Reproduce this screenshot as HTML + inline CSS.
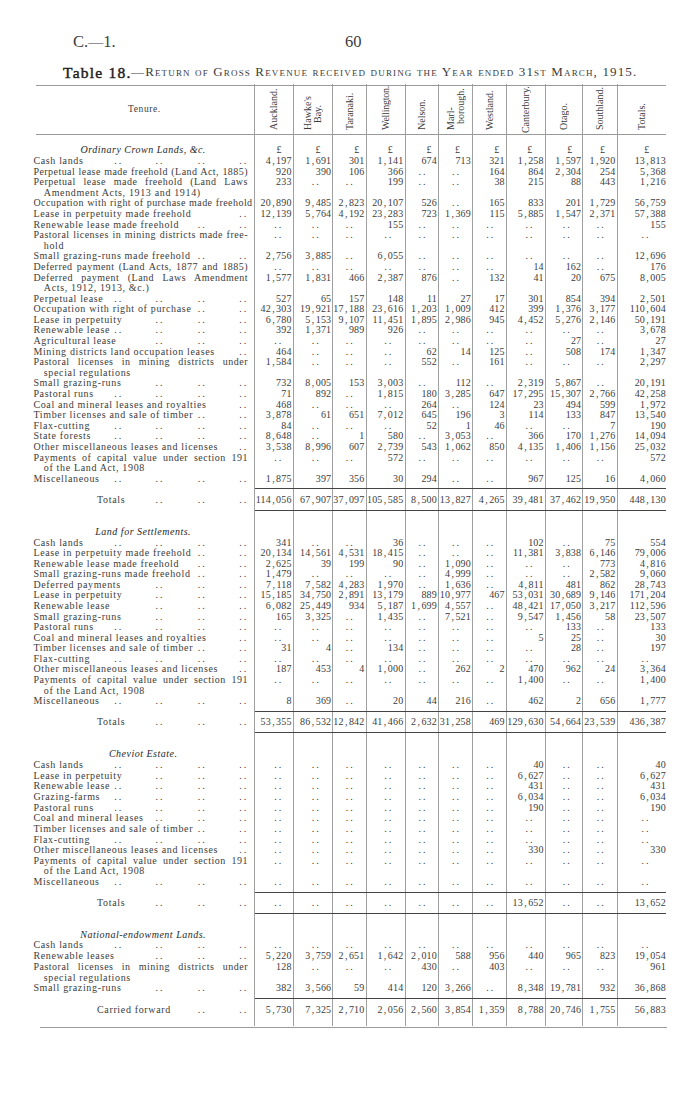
<!DOCTYPE html>
<html><head><meta charset="utf-8"><style>
html,body{margin:0;padding:0;background:#fff;}
body{width:700px;height:1119px;position:relative;overflow:hidden;font-family:"Liberation Serif",serif;color:#3c3c3c;}
div{position:absolute;white-space:nowrap;}
.t,.n,.dd{font-size:10px;line-height:11px;letter-spacing:0.65px;}
.n{text-align:right;letter-spacing:0.2px;margin-right:-0.2px;}
.n i{font-style:normal;padding:0 1.25px;}
.dd{letter-spacing:2px;}
.j{text-align:justify;text-align-last:justify;letter-spacing:0.5px;}
.ttl{letter-spacing:0.5px;color:#282828;}
.vl{width:1px;background:#a0a0a0;}
.hl{height:1px;background:#444;}
.hr{height:1px;background:#9a9a9a;}
.rot{font-size:10px;writing-mode:vertical-rl;transform:rotate(180deg);text-align:left;}
.hd{font-size:17px;}
</style></head><body>
<div class="hd" style="left:73px;top:32.2px;font-size:16.5px">C.<span style="font-size:15px">—</span>1.</div>
<div class="hd" style="left:345px;top:32px;font-size:16.5px">60</div>
<div style="left:63px;top:63.8px;font-size:15.5px;font-weight:normal;-webkit-text-stroke:0.45px #222;letter-spacing:1.25px;line-height:18px;color:#222">Table 18.</div>
<div style="left:131px;top:64.2px;font-size:13px;font-variant:small-caps;letter-spacing:1.15px;line-height:16px">—Return of Gross Revenue received during the Year ended 31st March, 1915.</div>
<div class="vl" style="left:254.2px;top:84px;height:942px"></div><div class="vl" style="left:292.8px;top:84px;height:942px"></div><div class="vl" style="left:332.4px;top:84px;height:942px"></div><div class="vl" style="left:365.6px;top:84px;height:942px"></div><div class="vl" style="left:404.5px;top:84px;height:942px"></div><div class="vl" style="left:438.1px;top:84px;height:942px"></div><div class="vl" style="left:472.1px;top:84px;height:942px"></div><div class="vl" style="left:505.9px;top:84px;height:942px"></div><div class="vl" style="left:544.9px;top:84px;height:942px"></div><div class="vl" style="left:582.4px;top:84px;height:942px"></div><div class="vl" style="left:616.6px;top:84px;height:942px"></div><div class="hr" style="left:36px;top:84.5px;width:630px"></div><div class="hr" style="left:36px;top:133.8px;width:630px"></div><div class="hr" style="left:40px;top:1026.6px;width:627px"></div><div class="rot" style="left:269.0px;top:85.5px;width:10.0px;height:44.0px;line-height:10.0px">Auckland.</div><div class="rot" style="left:303.1px;top:85.5px;width:20.0px;height:44.0px;line-height:10.0px"><span style="display:block">Hawke's</span><span style="display:block;padding-inline-start:6.9px">Bay.</span></div><div class="rot" style="left:344.5px;top:85.5px;width:10.0px;height:44.0px;line-height:10.0px">Taranaki.</div><div class="rot" style="left:380.6px;top:85.5px;width:10.0px;height:44.0px;line-height:10.0px"><span style="letter-spacing:-0.25px">Wellington.</span></div><div class="rot" style="left:416.8px;top:85.5px;width:10.0px;height:44.0px;line-height:10.0px">Nelson.</div><div class="rot" style="left:445.6px;top:85.5px;width:20.0px;height:44.0px;line-height:10.0px"><span style="display:block">Marl-</span><span style="display:block;padding-inline-start:5.7px">borough.</span></div><div class="rot" style="left:484.5px;top:85.5px;width:10.0px;height:44.0px;line-height:10.0px">Westland.</div><div class="rot" style="left:520.9px;top:85.5px;width:10.0px;height:47.1px;line-height:10.0px">Canterbury.</div><div class="rot" style="left:559.1px;top:85.5px;width:10.0px;height:44.0px;line-height:10.0px">Otago.</div><div class="rot" style="left:595.0px;top:85.5px;width:10.0px;height:44.0px;line-height:10.0px">Southland.</div><div class="rot" style="left:636.5px;top:85.5px;width:10.0px;height:44.0px;line-height:10.0px">Totals.</div><div class="t" style="left:128px;top:103.8px;font-size:9.5px;letter-spacing:0.6px">Tenure.</div>
<div class="t ttl" style="left:33.4px;top:144.4px;width:219.6px;text-align:center"><i>Ordinary Crown Lands, &amp;c.</i></div><div class="t" style="left:264.4px;top:144.4px;width:30.0px;text-align:center">£</div><div class="t" style="left:303.3px;top:144.4px;width:30.0px;text-align:center">£</div><div class="t" style="left:342.1px;top:144.4px;width:30.0px;text-align:center">£</div><div class="t" style="left:375.7px;top:144.4px;width:30.0px;text-align:center">£</div><div class="t" style="left:414.3px;top:144.4px;width:30.0px;text-align:center">£</div><div class="t" style="left:442.9px;top:144.4px;width:30.0px;text-align:center">£</div><div class="t" style="left:482.1px;top:144.4px;width:30.0px;text-align:center">£</div><div class="t" style="left:515.0px;top:144.4px;width:30.0px;text-align:center">£</div><div class="t" style="left:555.0px;top:144.4px;width:30.0px;text-align:center">£</div><div class="t" style="left:587.9px;top:144.4px;width:30.0px;text-align:center">£</div><div class="t" style="left:632.1px;top:144.4px;width:30.0px;text-align:center">£</div><div class="t" style="left:33.4px;top:155.0px">Cash lands</div><div class="dd" style="left:114.2px;top:155.0px">..</div><div class="dd" style="left:155.4px;top:155.0px">..</div><div class="dd" style="left:197.7px;top:155.0px">..</div><div class="dd" style="left:239.3px;top:155.0px">..</div><div class="n" style="left:244.7px;top:155.0px;width:47.0px">4<i>,</i>197</div><div class="n" style="left:283.3px;top:155.0px;width:48.0px">1<i>,</i>691</div><div class="n" style="left:322.9px;top:155.0px;width:41.6px">301</div><div class="n" style="left:356.1px;top:155.0px;width:47.3px">1<i>,</i>141</div><div class="n" style="left:395.0px;top:155.0px;width:42.0px">674</div><div class="n" style="left:428.6px;top:155.0px;width:42.4px">713</div><div class="n" style="left:462.6px;top:155.0px;width:42.2px">321</div><div class="n" style="left:496.4px;top:155.0px;width:47.4px">1<i>,</i>258</div><div class="n" style="left:535.4px;top:155.0px;width:45.9px">1<i>,</i>597</div><div class="n" style="left:572.9px;top:155.0px;width:42.6px">1<i>,</i>920</div><div class="n" style="left:607.1px;top:155.0px;width:58.8px">13<i>,</i>813</div><div class="t j" style="left:33.4px;top:165.6px;width:214.6px;letter-spacing:0.45px">Perpetual lease made freehold (Land Act, 1885)</div><div class="n" style="left:244.7px;top:165.6px;width:47.0px">920</div><div class="n" style="left:283.3px;top:165.6px;width:48.0px">390</div><div class="n" style="left:322.9px;top:165.6px;width:41.6px">106</div><div class="n" style="left:356.1px;top:165.6px;width:47.3px">366</div><div class="dd" style="left:418.4px;top:165.6px">..</div><div class="dd" style="left:452.1px;top:165.6px">..</div><div class="n" style="left:462.6px;top:165.6px;width:42.2px">164</div><div class="n" style="left:496.4px;top:165.6px;width:47.4px">864</div><div class="n" style="left:535.4px;top:165.6px;width:45.9px">2<i>,</i>304</div><div class="n" style="left:572.9px;top:165.6px;width:42.6px">254</div><div class="n" style="left:607.1px;top:165.6px;width:58.8px">5<i>,</i>368</div><div class="t j" style="left:33.4px;top:176.2px;width:214.6px">Perpetual lease made freehold (Land Laws</div><div class="n" style="left:244.7px;top:176.2px;width:47.0px">233</div><div class="dd" style="left:311.8px;top:176.2px">..</div><div class="dd" style="left:345.7px;top:176.2px">..</div><div class="n" style="left:356.1px;top:176.2px;width:47.3px">199</div><div class="dd" style="left:418.4px;top:176.2px">..</div><div class="dd" style="left:452.1px;top:176.2px">..</div><div class="n" style="left:462.6px;top:176.2px;width:42.2px">38</div><div class="n" style="left:496.4px;top:176.2px;width:47.4px">215</div><div class="n" style="left:535.4px;top:176.2px;width:45.9px">88</div><div class="n" style="left:572.9px;top:176.2px;width:42.6px">443</div><div class="n" style="left:607.1px;top:176.2px;width:58.8px">1<i>,</i>216</div><div class="t" style="left:43.8px;top:186.8px">Amendment Acts, 1913 and 1914)</div><div class="t j" style="left:33.4px;top:197.4px;width:219.2px;letter-spacing:0.45px">Occupation with right of purchase made freehold</div><div class="n" style="left:244.7px;top:197.4px;width:47.0px">20<i>,</i>890</div><div class="n" style="left:283.3px;top:197.4px;width:48.0px">9<i>,</i>485</div><div class="n" style="left:322.9px;top:197.4px;width:41.6px">2<i>,</i>823</div><div class="n" style="left:356.1px;top:197.4px;width:47.3px">20<i>,</i>107</div><div class="n" style="left:395.0px;top:197.4px;width:42.0px">526</div><div class="dd" style="left:452.1px;top:197.4px">..</div><div class="n" style="left:462.6px;top:197.4px;width:42.2px">165</div><div class="n" style="left:496.4px;top:197.4px;width:47.4px">833</div><div class="n" style="left:535.4px;top:197.4px;width:45.9px">201</div><div class="n" style="left:572.9px;top:197.4px;width:42.6px">1<i>,</i>729</div><div class="n" style="left:607.1px;top:197.4px;width:58.8px">56<i>,</i>759</div><div class="t" style="left:33.4px;top:207.9px">Lease in perpetuity made freehold</div><div class="dd" style="left:239.3px;top:207.9px">..</div><div class="n" style="left:244.7px;top:207.9px;width:47.0px">12<i>,</i>139</div><div class="n" style="left:283.3px;top:207.9px;width:48.0px">5<i>,</i>764</div><div class="n" style="left:322.9px;top:207.9px;width:41.6px">4<i>,</i>192</div><div class="n" style="left:356.1px;top:207.9px;width:47.3px">23<i>,</i>283</div><div class="n" style="left:395.0px;top:207.9px;width:42.0px">723</div><div class="n" style="left:428.6px;top:207.9px;width:42.4px">1<i>,</i>369</div><div class="n" style="left:462.6px;top:207.9px;width:42.2px">115</div><div class="n" style="left:496.4px;top:207.9px;width:47.4px">5<i>,</i>885</div><div class="n" style="left:535.4px;top:207.9px;width:45.9px">1<i>,</i>547</div><div class="n" style="left:572.9px;top:207.9px;width:42.6px">2<i>,</i>371</div><div class="n" style="left:607.1px;top:207.9px;width:58.8px">57<i>,</i>388</div><div class="t" style="left:33.4px;top:218.5px">Renewable lease made freehold</div><div class="dd" style="left:197.7px;top:218.5px">..</div><div class="dd" style="left:239.3px;top:218.5px">..</div><div class="dd" style="left:274.3px;top:218.5px">..</div><div class="dd" style="left:311.8px;top:218.5px">..</div><div class="dd" style="left:345.7px;top:218.5px">..</div><div class="n" style="left:356.1px;top:218.5px;width:47.3px">155</div><div class="dd" style="left:418.4px;top:218.5px">..</div><div class="dd" style="left:452.1px;top:218.5px">..</div><div class="dd" style="left:486.2px;top:218.5px">..</div><div class="dd" style="left:525.6px;top:218.5px">..</div><div class="dd" style="left:562.8px;top:218.5px">..</div><div class="dd" style="left:596.8px;top:218.5px">..</div><div class="n" style="left:607.1px;top:218.5px;width:58.8px">155</div><div class="t j" style="left:33.4px;top:229.1px;width:214.6px">Pastoral licenses in mining districts made free-</div><div class="dd" style="left:274.3px;top:229.1px">..</div><div class="dd" style="left:311.8px;top:229.1px">..</div><div class="dd" style="left:345.7px;top:229.1px">..</div><div class="dd" style="left:384.3px;top:229.1px">..</div><div class="dd" style="left:418.4px;top:229.1px">..</div><div class="dd" style="left:452.1px;top:229.1px">..</div><div class="dd" style="left:486.2px;top:229.1px">..</div><div class="dd" style="left:525.6px;top:229.1px">..</div><div class="dd" style="left:562.8px;top:229.1px">..</div><div class="dd" style="left:596.8px;top:229.1px">..</div><div class="dd" style="left:641.6px;top:229.1px">..</div><div class="t" style="left:43.8px;top:239.7px">hold</div><div class="t" style="left:33.4px;top:250.3px">Small grazing-runs made freehold</div><div class="dd" style="left:197.7px;top:250.3px">..</div><div class="dd" style="left:239.3px;top:250.3px">..</div><div class="n" style="left:244.7px;top:250.3px;width:47.0px">2<i>,</i>756</div><div class="n" style="left:283.3px;top:250.3px;width:48.0px">3<i>,</i>885</div><div class="dd" style="left:345.7px;top:250.3px">..</div><div class="n" style="left:356.1px;top:250.3px;width:47.3px">6<i>,</i>055</div><div class="dd" style="left:418.4px;top:250.3px">..</div><div class="dd" style="left:452.1px;top:250.3px">..</div><div class="dd" style="left:486.2px;top:250.3px">..</div><div class="dd" style="left:525.6px;top:250.3px">..</div><div class="dd" style="left:562.8px;top:250.3px">..</div><div class="dd" style="left:596.8px;top:250.3px">..</div><div class="n" style="left:607.1px;top:250.3px;width:58.8px">12<i>,</i>696</div><div class="t j" style="left:33.4px;top:260.9px;width:214.6px;letter-spacing:0.45px">Deferred payment (Land Acts, 1877 and 1885)</div><div class="dd" style="left:274.3px;top:260.9px">..</div><div class="dd" style="left:311.8px;top:260.9px">..</div><div class="dd" style="left:345.7px;top:260.9px">..</div><div class="dd" style="left:384.3px;top:260.9px">..</div><div class="dd" style="left:418.4px;top:260.9px">..</div><div class="dd" style="left:452.1px;top:260.9px">..</div><div class="dd" style="left:486.2px;top:260.9px">..</div><div class="n" style="left:496.4px;top:260.9px;width:47.4px">14</div><div class="n" style="left:535.4px;top:260.9px;width:45.9px">162</div><div class="dd" style="left:596.8px;top:260.9px">..</div><div class="n" style="left:607.1px;top:260.9px;width:58.8px">176</div><div class="t j" style="left:33.4px;top:271.5px;width:214.6px">Deferred payment (Land Laws Amendment</div><div class="n" style="left:244.7px;top:271.5px;width:47.0px">1<i>,</i>577</div><div class="n" style="left:283.3px;top:271.5px;width:48.0px">1<i>,</i>831</div><div class="n" style="left:322.9px;top:271.5px;width:41.6px">466</div><div class="n" style="left:356.1px;top:271.5px;width:47.3px">2<i>,</i>387</div><div class="n" style="left:395.0px;top:271.5px;width:42.0px">876</div><div class="dd" style="left:452.1px;top:271.5px">..</div><div class="n" style="left:462.6px;top:271.5px;width:42.2px">132</div><div class="n" style="left:496.4px;top:271.5px;width:47.4px">41</div><div class="n" style="left:535.4px;top:271.5px;width:45.9px">20</div><div class="n" style="left:572.9px;top:271.5px;width:42.6px">675</div><div class="n" style="left:607.1px;top:271.5px;width:58.8px">8<i>,</i>005</div><div class="t" style="left:43.8px;top:282.1px">Acts, 1912, 1913, &amp;c.)</div><div class="t" style="left:33.4px;top:292.7px">Perpetual lease</div><div class="dd" style="left:114.2px;top:292.7px">..</div><div class="dd" style="left:155.4px;top:292.7px">..</div><div class="dd" style="left:197.7px;top:292.7px">..</div><div class="dd" style="left:239.3px;top:292.7px">..</div><div class="n" style="left:244.7px;top:292.7px;width:47.0px">527</div><div class="n" style="left:283.3px;top:292.7px;width:48.0px">65</div><div class="n" style="left:322.9px;top:292.7px;width:41.6px">157</div><div class="n" style="left:356.1px;top:292.7px;width:47.3px">148</div><div class="n" style="left:395.0px;top:292.7px;width:42.0px">11</div><div class="n" style="left:428.6px;top:292.7px;width:42.4px">27</div><div class="n" style="left:462.6px;top:292.7px;width:42.2px">17</div><div class="n" style="left:496.4px;top:292.7px;width:47.4px">301</div><div class="n" style="left:535.4px;top:292.7px;width:45.9px">854</div><div class="n" style="left:572.9px;top:292.7px;width:42.6px">394</div><div class="n" style="left:607.1px;top:292.7px;width:58.8px">2<i>,</i>501</div><div class="t" style="left:33.4px;top:303.2px">Occupation with right of purchase</div><div class="dd" style="left:197.7px;top:303.2px">..</div><div class="dd" style="left:239.3px;top:303.2px">..</div><div class="n" style="left:244.7px;top:303.2px;width:47.0px">42<i>,</i>303</div><div class="n" style="left:283.3px;top:303.2px;width:48.0px">19<i>,</i>921</div><div class="n" style="left:322.9px;top:303.2px;width:41.6px">17<i>,</i>188</div><div class="n" style="left:356.1px;top:303.2px;width:47.3px">23<i>,</i>616</div><div class="n" style="left:395.0px;top:303.2px;width:42.0px">1<i>,</i>203</div><div class="n" style="left:428.6px;top:303.2px;width:42.4px">1<i>,</i>009</div><div class="n" style="left:462.6px;top:303.2px;width:42.2px">412</div><div class="n" style="left:496.4px;top:303.2px;width:47.4px">399</div><div class="n" style="left:535.4px;top:303.2px;width:45.9px">1<i>,</i>376</div><div class="n" style="left:572.9px;top:303.2px;width:42.6px">3<i>,</i>177</div><div class="n" style="left:607.1px;top:303.2px;width:58.8px">110<i>,</i>604</div><div class="t" style="left:33.4px;top:313.8px">Lease in perpetuity</div><div class="dd" style="left:155.4px;top:313.8px">..</div><div class="dd" style="left:197.7px;top:313.8px">..</div><div class="dd" style="left:239.3px;top:313.8px">..</div><div class="n" style="left:244.7px;top:313.8px;width:47.0px">6<i>,</i>780</div><div class="n" style="left:283.3px;top:313.8px;width:48.0px">5<i>,</i>153</div><div class="n" style="left:322.9px;top:313.8px;width:41.6px">9<i>,</i>107</div><div class="n" style="left:356.1px;top:313.8px;width:47.3px">11<i>,</i>451</div><div class="n" style="left:395.0px;top:313.8px;width:42.0px">1<i>,</i>895</div><div class="n" style="left:428.6px;top:313.8px;width:42.4px">2<i>,</i>986</div><div class="n" style="left:462.6px;top:313.8px;width:42.2px">945</div><div class="n" style="left:496.4px;top:313.8px;width:47.4px">4<i>,</i>452</div><div class="n" style="left:535.4px;top:313.8px;width:45.9px">5<i>,</i>276</div><div class="n" style="left:572.9px;top:313.8px;width:42.6px">2<i>,</i>146</div><div class="n" style="left:607.1px;top:313.8px;width:58.8px">50<i>,</i>191</div><div class="t" style="left:33.4px;top:324.4px">Renewable lease</div><div class="dd" style="left:114.2px;top:324.4px">..</div><div class="dd" style="left:155.4px;top:324.4px">..</div><div class="dd" style="left:197.7px;top:324.4px">..</div><div class="dd" style="left:239.3px;top:324.4px">..</div><div class="n" style="left:244.7px;top:324.4px;width:47.0px">392</div><div class="n" style="left:283.3px;top:324.4px;width:48.0px">1<i>,</i>371</div><div class="n" style="left:322.9px;top:324.4px;width:41.6px">989</div><div class="n" style="left:356.1px;top:324.4px;width:47.3px">926</div><div class="dd" style="left:418.4px;top:324.4px">..</div><div class="dd" style="left:452.1px;top:324.4px">..</div><div class="dd" style="left:486.2px;top:324.4px">..</div><div class="dd" style="left:525.6px;top:324.4px">..</div><div class="dd" style="left:562.8px;top:324.4px">..</div><div class="dd" style="left:596.8px;top:324.4px">..</div><div class="n" style="left:607.1px;top:324.4px;width:58.8px">3<i>,</i>678</div><div class="t" style="left:33.4px;top:335.0px">Agricultural lease</div><div class="dd" style="left:155.4px;top:335.0px">..</div><div class="dd" style="left:197.7px;top:335.0px">..</div><div class="dd" style="left:239.3px;top:335.0px">..</div><div class="dd" style="left:274.3px;top:335.0px">..</div><div class="dd" style="left:311.8px;top:335.0px">..</div><div class="dd" style="left:345.7px;top:335.0px">..</div><div class="dd" style="left:384.3px;top:335.0px">..</div><div class="dd" style="left:418.4px;top:335.0px">..</div><div class="dd" style="left:452.1px;top:335.0px">..</div><div class="dd" style="left:486.2px;top:335.0px">..</div><div class="dd" style="left:525.6px;top:335.0px">..</div><div class="n" style="left:535.4px;top:335.0px;width:45.9px">27</div><div class="dd" style="left:596.8px;top:335.0px">..</div><div class="n" style="left:607.1px;top:335.0px;width:58.8px">27</div><div class="t" style="left:33.4px;top:345.6px">Mining districts land occupation leases</div><div class="dd" style="left:239.3px;top:345.6px">..</div><div class="n" style="left:244.7px;top:345.6px;width:47.0px">464</div><div class="dd" style="left:311.8px;top:345.6px">..</div><div class="dd" style="left:345.7px;top:345.6px">..</div><div class="dd" style="left:384.3px;top:345.6px">..</div><div class="n" style="left:395.0px;top:345.6px;width:42.0px">62</div><div class="n" style="left:428.6px;top:345.6px;width:42.4px">14</div><div class="n" style="left:462.6px;top:345.6px;width:42.2px">125</div><div class="dd" style="left:525.6px;top:345.6px">..</div><div class="n" style="left:535.4px;top:345.6px;width:45.9px">508</div><div class="n" style="left:572.9px;top:345.6px;width:42.6px">174</div><div class="n" style="left:607.1px;top:345.6px;width:58.8px">1<i>,</i>347</div><div class="t j" style="left:33.4px;top:356.2px;width:214.6px">Pastoral licenses in mining districts under</div><div class="n" style="left:244.7px;top:356.2px;width:47.0px">1<i>,</i>584</div><div class="dd" style="left:311.8px;top:356.2px">..</div><div class="dd" style="left:345.7px;top:356.2px">..</div><div class="dd" style="left:384.3px;top:356.2px">..</div><div class="n" style="left:395.0px;top:356.2px;width:42.0px">552</div><div class="dd" style="left:452.1px;top:356.2px">..</div><div class="n" style="left:462.6px;top:356.2px;width:42.2px">161</div><div class="dd" style="left:525.6px;top:356.2px">..</div><div class="dd" style="left:562.8px;top:356.2px">..</div><div class="dd" style="left:596.8px;top:356.2px">..</div><div class="n" style="left:607.1px;top:356.2px;width:58.8px">2<i>,</i>297</div><div class="t" style="left:43.8px;top:366.8px">special regulations</div><div class="t" style="left:33.4px;top:377.4px">Small grazing-runs</div><div class="dd" style="left:155.4px;top:377.4px">..</div><div class="dd" style="left:197.7px;top:377.4px">..</div><div class="dd" style="left:239.3px;top:377.4px">..</div><div class="n" style="left:244.7px;top:377.4px;width:47.0px">732</div><div class="n" style="left:283.3px;top:377.4px;width:48.0px">8<i>,</i>005</div><div class="n" style="left:322.9px;top:377.4px;width:41.6px">153</div><div class="n" style="left:356.1px;top:377.4px;width:47.3px">3<i>,</i>003</div><div class="dd" style="left:418.4px;top:377.4px">..</div><div class="n" style="left:428.6px;top:377.4px;width:42.4px">112</div><div class="dd" style="left:486.2px;top:377.4px">..</div><div class="n" style="left:496.4px;top:377.4px;width:47.4px">2<i>,</i>319</div><div class="n" style="left:535.4px;top:377.4px;width:45.9px">5<i>,</i>867</div><div class="dd" style="left:596.8px;top:377.4px">..</div><div class="n" style="left:607.1px;top:377.4px;width:58.8px">20<i>,</i>191</div><div class="t" style="left:33.4px;top:388.0px">Pastoral runs</div><div class="dd" style="left:114.2px;top:388.0px">..</div><div class="dd" style="left:155.4px;top:388.0px">..</div><div class="dd" style="left:197.7px;top:388.0px">..</div><div class="dd" style="left:239.3px;top:388.0px">..</div><div class="n" style="left:244.7px;top:388.0px;width:47.0px">71</div><div class="n" style="left:283.3px;top:388.0px;width:48.0px">892</div><div class="dd" style="left:345.7px;top:388.0px">..</div><div class="n" style="left:356.1px;top:388.0px;width:47.3px">1<i>,</i>815</div><div class="n" style="left:395.0px;top:388.0px;width:42.0px">180</div><div class="n" style="left:428.6px;top:388.0px;width:42.4px">3<i>,</i>285</div><div class="n" style="left:462.6px;top:388.0px;width:42.2px">647</div><div class="n" style="left:496.4px;top:388.0px;width:47.4px">17<i>,</i>295</div><div class="n" style="left:535.4px;top:388.0px;width:45.9px">15<i>,</i>307</div><div class="n" style="left:572.9px;top:388.0px;width:42.6px">2<i>,</i>766</div><div class="n" style="left:607.1px;top:388.0px;width:58.8px">42<i>,</i>258</div><div class="t" style="left:33.4px;top:398.6px">Coal and mineral leases and royalties</div><div class="dd" style="left:239.3px;top:398.6px">..</div><div class="n" style="left:244.7px;top:398.6px;width:47.0px">468</div><div class="dd" style="left:311.8px;top:398.6px">..</div><div class="dd" style="left:345.7px;top:398.6px">..</div><div class="dd" style="left:384.3px;top:398.6px">..</div><div class="n" style="left:395.0px;top:398.6px;width:42.0px">264</div><div class="dd" style="left:452.1px;top:398.6px">..</div><div class="n" style="left:462.6px;top:398.6px;width:42.2px">124</div><div class="n" style="left:496.4px;top:398.6px;width:47.4px">23</div><div class="n" style="left:535.4px;top:398.6px;width:45.9px">494</div><div class="n" style="left:572.9px;top:398.6px;width:42.6px">599</div><div class="n" style="left:607.1px;top:398.6px;width:58.8px">1<i>,</i>972</div><div class="t" style="left:33.4px;top:409.2px">Timber licenses and sale of timber</div><div class="dd" style="left:197.7px;top:409.2px">..</div><div class="dd" style="left:239.3px;top:409.2px">..</div><div class="n" style="left:244.7px;top:409.2px;width:47.0px">3<i>,</i>878</div><div class="n" style="left:283.3px;top:409.2px;width:48.0px">61</div><div class="n" style="left:322.9px;top:409.2px;width:41.6px">651</div><div class="n" style="left:356.1px;top:409.2px;width:47.3px">7<i>,</i>012</div><div class="n" style="left:395.0px;top:409.2px;width:42.0px">645</div><div class="n" style="left:428.6px;top:409.2px;width:42.4px">196</div><div class="n" style="left:462.6px;top:409.2px;width:42.2px">3</div><div class="n" style="left:496.4px;top:409.2px;width:47.4px">114</div><div class="n" style="left:535.4px;top:409.2px;width:45.9px">133</div><div class="n" style="left:572.9px;top:409.2px;width:42.6px">847</div><div class="n" style="left:607.1px;top:409.2px;width:58.8px">13<i>,</i>540</div><div class="t" style="left:33.4px;top:419.7px">Flax-cutting</div><div class="dd" style="left:114.2px;top:419.7px">..</div><div class="dd" style="left:155.4px;top:419.7px">..</div><div class="dd" style="left:197.7px;top:419.7px">..</div><div class="dd" style="left:239.3px;top:419.7px">..</div><div class="n" style="left:244.7px;top:419.7px;width:47.0px">84</div><div class="dd" style="left:311.8px;top:419.7px">..</div><div class="dd" style="left:345.7px;top:419.7px">..</div><div class="dd" style="left:384.3px;top:419.7px">..</div><div class="n" style="left:395.0px;top:419.7px;width:42.0px">52</div><div class="n" style="left:428.6px;top:419.7px;width:42.4px">1</div><div class="n" style="left:462.6px;top:419.7px;width:42.2px">46</div><div class="dd" style="left:525.6px;top:419.7px">..</div><div class="dd" style="left:562.8px;top:419.7px">..</div><div class="n" style="left:572.9px;top:419.7px;width:42.6px">7</div><div class="n" style="left:607.1px;top:419.7px;width:58.8px">190</div><div class="t" style="left:33.4px;top:430.3px">State forests</div><div class="dd" style="left:114.2px;top:430.3px">..</div><div class="dd" style="left:155.4px;top:430.3px">..</div><div class="dd" style="left:197.7px;top:430.3px">..</div><div class="dd" style="left:239.3px;top:430.3px">..</div><div class="n" style="left:244.7px;top:430.3px;width:47.0px">8<i>,</i>648</div><div class="dd" style="left:311.8px;top:430.3px">..</div><div class="n" style="left:322.9px;top:430.3px;width:41.6px">1</div><div class="n" style="left:356.1px;top:430.3px;width:47.3px">580</div><div class="dd" style="left:418.4px;top:430.3px">..</div><div class="n" style="left:428.6px;top:430.3px;width:42.4px">3<i>,</i>053</div><div class="dd" style="left:486.2px;top:430.3px">..</div><div class="n" style="left:496.4px;top:430.3px;width:47.4px">366</div><div class="n" style="left:535.4px;top:430.3px;width:45.9px">170</div><div class="n" style="left:572.9px;top:430.3px;width:42.6px">1<i>,</i>276</div><div class="n" style="left:607.1px;top:430.3px;width:58.8px">14<i>,</i>094</div><div class="t" style="left:33.4px;top:440.9px">Other miscellaneous leases and licenses</div><div class="dd" style="left:239.3px;top:440.9px">..</div><div class="n" style="left:244.7px;top:440.9px;width:47.0px">3<i>,</i>538</div><div class="n" style="left:283.3px;top:440.9px;width:48.0px">8<i>,</i>996</div><div class="n" style="left:322.9px;top:440.9px;width:41.6px">607</div><div class="n" style="left:356.1px;top:440.9px;width:47.3px">2<i>,</i>739</div><div class="n" style="left:395.0px;top:440.9px;width:42.0px">543</div><div class="n" style="left:428.6px;top:440.9px;width:42.4px">1<i>,</i>062</div><div class="n" style="left:462.6px;top:440.9px;width:42.2px">850</div><div class="n" style="left:496.4px;top:440.9px;width:47.4px">4<i>,</i>135</div><div class="n" style="left:535.4px;top:440.9px;width:45.9px">1<i>,</i>406</div><div class="n" style="left:572.9px;top:440.9px;width:42.6px">1<i>,</i>156</div><div class="n" style="left:607.1px;top:440.9px;width:58.8px">25<i>,</i>032</div><div class="t j" style="left:33.4px;top:451.5px;width:214.6px">Payments of capital value under section 191</div><div class="dd" style="left:274.3px;top:451.5px">..</div><div class="dd" style="left:311.8px;top:451.5px">..</div><div class="dd" style="left:345.7px;top:451.5px">..</div><div class="n" style="left:356.1px;top:451.5px;width:47.3px">572</div><div class="dd" style="left:418.4px;top:451.5px">..</div><div class="dd" style="left:452.1px;top:451.5px">..</div><div class="dd" style="left:486.2px;top:451.5px">..</div><div class="dd" style="left:525.6px;top:451.5px">..</div><div class="dd" style="left:562.8px;top:451.5px">..</div><div class="dd" style="left:596.8px;top:451.5px">..</div><div class="n" style="left:607.1px;top:451.5px;width:58.8px">572</div><div class="t" style="left:43.8px;top:462.1px">of the Land Act, 1908</div><div class="t" style="left:33.4px;top:472.7px">Miscellaneous</div><div class="dd" style="left:114.2px;top:472.7px">..</div><div class="dd" style="left:155.4px;top:472.7px">..</div><div class="dd" style="left:197.7px;top:472.7px">..</div><div class="dd" style="left:239.3px;top:472.7px">..</div><div class="n" style="left:244.7px;top:472.7px;width:47.0px">1<i>,</i>875</div><div class="n" style="left:283.3px;top:472.7px;width:48.0px">397</div><div class="n" style="left:322.9px;top:472.7px;width:41.6px">356</div><div class="n" style="left:356.1px;top:472.7px;width:47.3px">30</div><div class="n" style="left:395.0px;top:472.7px;width:42.0px">294</div><div class="dd" style="left:452.1px;top:472.7px">..</div><div class="dd" style="left:486.2px;top:472.7px">..</div><div class="n" style="left:496.4px;top:472.7px;width:47.4px">967</div><div class="n" style="left:535.4px;top:472.7px;width:45.9px">125</div><div class="n" style="left:572.9px;top:472.7px;width:42.6px">16</div><div class="n" style="left:607.1px;top:472.7px;width:58.8px">4<i>,</i>060</div><div class="t" style="left:97.0px;top:493.9px">Totals</div><div class="dd" style="left:155.4px;top:493.9px">..</div><div class="dd" style="left:197.7px;top:493.9px">..</div><div class="dd" style="left:239.3px;top:493.9px">..</div><div class="n" style="left:244.7px;top:493.9px;width:47.0px">114<i>,</i>056</div><div class="n" style="left:283.3px;top:493.9px;width:48.0px">67<i>,</i>907</div><div class="n" style="left:322.9px;top:493.9px;width:41.6px">37<i>,</i>097</div><div class="n" style="left:356.1px;top:493.9px;width:47.3px">105<i>,</i>585</div><div class="n" style="left:395.0px;top:493.9px;width:42.0px">8<i>,</i>500</div><div class="n" style="left:428.6px;top:493.9px;width:42.4px">13<i>,</i>827</div><div class="n" style="left:462.6px;top:493.9px;width:42.2px">4<i>,</i>265</div><div class="n" style="left:496.4px;top:493.9px;width:47.4px">39<i>,</i>481</div><div class="n" style="left:535.4px;top:493.9px;width:45.9px">37<i>,</i>462</div><div class="n" style="left:572.9px;top:493.9px;width:42.6px">19<i>,</i>950</div><div class="n" style="left:607.1px;top:493.9px;width:58.8px">448<i>,</i>130</div><div class="hl" style="left:254.7px;top:488.3px;width:411.3px"></div><div class="hl" style="left:254.7px;top:509.5px;width:411.3px"></div><div class="t ttl" style="left:33.4px;top:525.9px;width:219.6px;text-align:center"><i>Land for Settlements.</i></div><div class="t" style="left:33.4px;top:536.5px">Cash lands</div><div class="dd" style="left:114.2px;top:536.5px">..</div><div class="dd" style="left:155.4px;top:536.5px">..</div><div class="dd" style="left:197.7px;top:536.5px">..</div><div class="dd" style="left:239.3px;top:536.5px">..</div><div class="n" style="left:244.7px;top:536.5px;width:47.0px">341</div><div class="dd" style="left:311.8px;top:536.5px">..</div><div class="dd" style="left:345.7px;top:536.5px">..</div><div class="n" style="left:356.1px;top:536.5px;width:47.3px">36</div><div class="dd" style="left:418.4px;top:536.5px">..</div><div class="dd" style="left:452.1px;top:536.5px">..</div><div class="dd" style="left:486.2px;top:536.5px">..</div><div class="n" style="left:496.4px;top:536.5px;width:47.4px">102</div><div class="dd" style="left:562.8px;top:536.5px">..</div><div class="n" style="left:572.9px;top:536.5px;width:42.6px">75</div><div class="n" style="left:607.1px;top:536.5px;width:58.8px">554</div><div class="t" style="left:33.4px;top:547.1px">Lease in perpetuity made freehold</div><div class="dd" style="left:197.7px;top:547.1px">..</div><div class="dd" style="left:239.3px;top:547.1px">..</div><div class="n" style="left:244.7px;top:547.1px;width:47.0px">20<i>,</i>134</div><div class="n" style="left:283.3px;top:547.1px;width:48.0px">14<i>,</i>561</div><div class="n" style="left:322.9px;top:547.1px;width:41.6px">4<i>,</i>531</div><div class="n" style="left:356.1px;top:547.1px;width:47.3px">18<i>,</i>415</div><div class="dd" style="left:418.4px;top:547.1px">..</div><div class="dd" style="left:452.1px;top:547.1px">..</div><div class="dd" style="left:486.2px;top:547.1px">..</div><div class="n" style="left:496.4px;top:547.1px;width:47.4px">11<i>,</i>381</div><div class="n" style="left:535.4px;top:547.1px;width:45.9px">3<i>,</i>838</div><div class="n" style="left:572.9px;top:547.1px;width:42.6px">6<i>,</i>146</div><div class="n" style="left:607.1px;top:547.1px;width:58.8px">79<i>,</i>006</div><div class="t" style="left:33.4px;top:557.6px">Renewable lease made freehold</div><div class="dd" style="left:197.7px;top:557.6px">..</div><div class="dd" style="left:239.3px;top:557.6px">..</div><div class="n" style="left:244.7px;top:557.6px;width:47.0px">2<i>,</i>625</div><div class="n" style="left:283.3px;top:557.6px;width:48.0px">39</div><div class="n" style="left:322.9px;top:557.6px;width:41.6px">199</div><div class="n" style="left:356.1px;top:557.6px;width:47.3px">90</div><div class="dd" style="left:418.4px;top:557.6px">..</div><div class="n" style="left:428.6px;top:557.6px;width:42.4px">1<i>,</i>090</div><div class="dd" style="left:486.2px;top:557.6px">..</div><div class="dd" style="left:525.6px;top:557.6px">..</div><div class="dd" style="left:562.8px;top:557.6px">..</div><div class="n" style="left:572.9px;top:557.6px;width:42.6px">773</div><div class="n" style="left:607.1px;top:557.6px;width:58.8px">4<i>,</i>816</div><div class="t" style="left:33.4px;top:568.2px">Small grazing-runs made freehold</div><div class="dd" style="left:197.7px;top:568.2px">..</div><div class="dd" style="left:239.3px;top:568.2px">..</div><div class="n" style="left:244.7px;top:568.2px;width:47.0px">1<i>,</i>479</div><div class="dd" style="left:311.8px;top:568.2px">..</div><div class="dd" style="left:345.7px;top:568.2px">..</div><div class="dd" style="left:384.3px;top:568.2px">..</div><div class="dd" style="left:418.4px;top:568.2px">..</div><div class="n" style="left:428.6px;top:568.2px;width:42.4px">4<i>,</i>999</div><div class="dd" style="left:486.2px;top:568.2px">..</div><div class="dd" style="left:525.6px;top:568.2px">..</div><div class="dd" style="left:562.8px;top:568.2px">..</div><div class="n" style="left:572.9px;top:568.2px;width:42.6px">2<i>,</i>582</div><div class="n" style="left:607.1px;top:568.2px;width:58.8px">9<i>,</i>060</div><div class="t" style="left:33.4px;top:578.8px">Deferred payments</div><div class="dd" style="left:155.4px;top:578.8px">..</div><div class="dd" style="left:197.7px;top:578.8px">..</div><div class="dd" style="left:239.3px;top:578.8px">..</div><div class="n" style="left:244.7px;top:578.8px;width:47.0px">7<i>,</i>118</div><div class="n" style="left:283.3px;top:578.8px;width:48.0px">7<i>,</i>582</div><div class="n" style="left:322.9px;top:578.8px;width:41.6px">4<i>,</i>283</div><div class="n" style="left:356.1px;top:578.8px;width:47.3px">1<i>,</i>970</div><div class="dd" style="left:418.4px;top:578.8px">..</div><div class="n" style="left:428.6px;top:578.8px;width:42.4px">1<i>,</i>636</div><div class="dd" style="left:486.2px;top:578.8px">..</div><div class="n" style="left:496.4px;top:578.8px;width:47.4px">4<i>,</i>811</div><div class="n" style="left:535.4px;top:578.8px;width:45.9px">481</div><div class="n" style="left:572.9px;top:578.8px;width:42.6px">862</div><div class="n" style="left:607.1px;top:578.8px;width:58.8px">28<i>,</i>743</div><div class="t" style="left:33.4px;top:589.4px">Lease in perpetuity</div><div class="dd" style="left:155.4px;top:589.4px">..</div><div class="dd" style="left:197.7px;top:589.4px">..</div><div class="dd" style="left:239.3px;top:589.4px">..</div><div class="n" style="left:244.7px;top:589.4px;width:47.0px">15<i>,</i>185</div><div class="n" style="left:283.3px;top:589.4px;width:48.0px">34<i>,</i>750</div><div class="n" style="left:322.9px;top:589.4px;width:41.6px">2<i>,</i>891</div><div class="n" style="left:356.1px;top:589.4px;width:47.3px">13<i>,</i>179</div><div class="n" style="left:395.0px;top:589.4px;width:42.0px">889</div><div class="n" style="left:428.6px;top:589.4px;width:42.4px">10<i>,</i>977</div><div class="n" style="left:462.6px;top:589.4px;width:42.2px">467</div><div class="n" style="left:496.4px;top:589.4px;width:47.4px">53<i>,</i>031</div><div class="n" style="left:535.4px;top:589.4px;width:45.9px">30<i>,</i>689</div><div class="n" style="left:572.9px;top:589.4px;width:42.6px">9<i>,</i>146</div><div class="n" style="left:607.1px;top:589.4px;width:58.8px">171<i>,</i>204</div><div class="t" style="left:33.4px;top:600.0px">Renewable lease</div><div class="dd" style="left:155.4px;top:600.0px">..</div><div class="dd" style="left:197.7px;top:600.0px">..</div><div class="dd" style="left:239.3px;top:600.0px">..</div><div class="n" style="left:244.7px;top:600.0px;width:47.0px">6<i>,</i>082</div><div class="n" style="left:283.3px;top:600.0px;width:48.0px">25<i>,</i>449</div><div class="n" style="left:322.9px;top:600.0px;width:41.6px">934</div><div class="n" style="left:356.1px;top:600.0px;width:47.3px">5<i>,</i>187</div><div class="n" style="left:395.0px;top:600.0px;width:42.0px">1<i>,</i>699</div><div class="n" style="left:428.6px;top:600.0px;width:42.4px">4<i>,</i>557</div><div class="dd" style="left:486.2px;top:600.0px">..</div><div class="n" style="left:496.4px;top:600.0px;width:47.4px">48<i>,</i>421</div><div class="n" style="left:535.4px;top:600.0px;width:45.9px">17<i>,</i>050</div><div class="n" style="left:572.9px;top:600.0px;width:42.6px">3<i>,</i>217</div><div class="n" style="left:607.1px;top:600.0px;width:58.8px">112<i>,</i>596</div><div class="t" style="left:33.4px;top:610.5px">Small grazing-runs</div><div class="dd" style="left:155.4px;top:610.5px">..</div><div class="dd" style="left:197.7px;top:610.5px">..</div><div class="dd" style="left:239.3px;top:610.5px">..</div><div class="n" style="left:244.7px;top:610.5px;width:47.0px">165</div><div class="n" style="left:283.3px;top:610.5px;width:48.0px">3<i>,</i>325</div><div class="dd" style="left:345.7px;top:610.5px">..</div><div class="n" style="left:356.1px;top:610.5px;width:47.3px">1<i>,</i>435</div><div class="dd" style="left:418.4px;top:610.5px">..</div><div class="n" style="left:428.6px;top:610.5px;width:42.4px">7<i>,</i>521</div><div class="dd" style="left:486.2px;top:610.5px">..</div><div class="n" style="left:496.4px;top:610.5px;width:47.4px">9<i>,</i>547</div><div class="n" style="left:535.4px;top:610.5px;width:45.9px">1<i>,</i>456</div><div class="n" style="left:572.9px;top:610.5px;width:42.6px">58</div><div class="n" style="left:607.1px;top:610.5px;width:58.8px">23<i>,</i>507</div><div class="t" style="left:33.4px;top:621.1px">Pastoral runs</div><div class="dd" style="left:114.2px;top:621.1px">..</div><div class="dd" style="left:155.4px;top:621.1px">..</div><div class="dd" style="left:197.7px;top:621.1px">..</div><div class="dd" style="left:239.3px;top:621.1px">..</div><div class="dd" style="left:274.3px;top:621.1px">..</div><div class="dd" style="left:311.8px;top:621.1px">..</div><div class="dd" style="left:345.7px;top:621.1px">..</div><div class="dd" style="left:384.3px;top:621.1px">..</div><div class="dd" style="left:418.4px;top:621.1px">..</div><div class="dd" style="left:452.1px;top:621.1px">..</div><div class="dd" style="left:486.2px;top:621.1px">..</div><div class="dd" style="left:525.6px;top:621.1px">..</div><div class="n" style="left:535.4px;top:621.1px;width:45.9px">133</div><div class="dd" style="left:596.8px;top:621.1px">..</div><div class="n" style="left:607.1px;top:621.1px;width:58.8px">133</div><div class="t" style="left:33.4px;top:631.7px">Coal and mineral leases and royalties</div><div class="dd" style="left:239.3px;top:631.7px">..</div><div class="dd" style="left:274.3px;top:631.7px">..</div><div class="dd" style="left:311.8px;top:631.7px">..</div><div class="dd" style="left:345.7px;top:631.7px">..</div><div class="dd" style="left:384.3px;top:631.7px">..</div><div class="dd" style="left:418.4px;top:631.7px">..</div><div class="dd" style="left:452.1px;top:631.7px">..</div><div class="dd" style="left:486.2px;top:631.7px">..</div><div class="n" style="left:496.4px;top:631.7px;width:47.4px">5</div><div class="n" style="left:535.4px;top:631.7px;width:45.9px">25</div><div class="dd" style="left:596.8px;top:631.7px">..</div><div class="n" style="left:607.1px;top:631.7px;width:58.8px">30</div><div class="t" style="left:33.4px;top:642.3px">Timber licenses and sale of timber</div><div class="dd" style="left:197.7px;top:642.3px">..</div><div class="dd" style="left:239.3px;top:642.3px">..</div><div class="n" style="left:244.7px;top:642.3px;width:47.0px">31</div><div class="n" style="left:283.3px;top:642.3px;width:48.0px">4</div><div class="dd" style="left:345.7px;top:642.3px">..</div><div class="n" style="left:356.1px;top:642.3px;width:47.3px">134</div><div class="dd" style="left:418.4px;top:642.3px">..</div><div class="dd" style="left:452.1px;top:642.3px">..</div><div class="dd" style="left:486.2px;top:642.3px">..</div><div class="dd" style="left:525.6px;top:642.3px">..</div><div class="n" style="left:535.4px;top:642.3px;width:45.9px">28</div><div class="dd" style="left:596.8px;top:642.3px">..</div><div class="n" style="left:607.1px;top:642.3px;width:58.8px">197</div><div class="t" style="left:33.4px;top:652.9px">Flax-cutting</div><div class="dd" style="left:114.2px;top:652.9px">..</div><div class="dd" style="left:155.4px;top:652.9px">..</div><div class="dd" style="left:197.7px;top:652.9px">..</div><div class="dd" style="left:239.3px;top:652.9px">..</div><div class="dd" style="left:274.3px;top:652.9px">..</div><div class="dd" style="left:311.8px;top:652.9px">..</div><div class="dd" style="left:345.7px;top:652.9px">..</div><div class="dd" style="left:384.3px;top:652.9px">..</div><div class="dd" style="left:418.4px;top:652.9px">..</div><div class="dd" style="left:452.1px;top:652.9px">..</div><div class="dd" style="left:486.2px;top:652.9px">..</div><div class="dd" style="left:525.6px;top:652.9px">..</div><div class="dd" style="left:562.8px;top:652.9px">..</div><div class="dd" style="left:596.8px;top:652.9px">..</div><div class="dd" style="left:641.6px;top:652.9px">..</div><div class="t" style="left:33.4px;top:663.4px">Other miscellaneous leases and licenses</div><div class="dd" style="left:239.3px;top:663.4px">..</div><div class="n" style="left:244.7px;top:663.4px;width:47.0px">187</div><div class="n" style="left:283.3px;top:663.4px;width:48.0px">453</div><div class="n" style="left:322.9px;top:663.4px;width:41.6px">4</div><div class="n" style="left:356.1px;top:663.4px;width:47.3px">1<i>,</i>000</div><div class="dd" style="left:418.4px;top:663.4px">..</div><div class="n" style="left:428.6px;top:663.4px;width:42.4px">262</div><div class="n" style="left:462.6px;top:663.4px;width:42.2px">2</div><div class="n" style="left:496.4px;top:663.4px;width:47.4px">470</div><div class="n" style="left:535.4px;top:663.4px;width:45.9px">962</div><div class="n" style="left:572.9px;top:663.4px;width:42.6px">24</div><div class="n" style="left:607.1px;top:663.4px;width:58.8px">3<i>,</i>364</div><div class="t j" style="left:33.4px;top:674.0px;width:214.6px">Payments of capital value under section 191</div><div class="dd" style="left:274.3px;top:674.0px">..</div><div class="dd" style="left:311.8px;top:674.0px">..</div><div class="dd" style="left:345.7px;top:674.0px">..</div><div class="dd" style="left:384.3px;top:674.0px">..</div><div class="dd" style="left:418.4px;top:674.0px">..</div><div class="dd" style="left:452.1px;top:674.0px">..</div><div class="dd" style="left:486.2px;top:674.0px">..</div><div class="n" style="left:496.4px;top:674.0px;width:47.4px">1<i>,</i>400</div><div class="dd" style="left:562.8px;top:674.0px">..</div><div class="dd" style="left:596.8px;top:674.0px">..</div><div class="n" style="left:607.1px;top:674.0px;width:58.8px">1<i>,</i>400</div><div class="t" style="left:43.8px;top:684.6px">of the Land Act, 1908</div><div class="t" style="left:33.4px;top:695.2px">Miscellaneous</div><div class="dd" style="left:114.2px;top:695.2px">..</div><div class="dd" style="left:155.4px;top:695.2px">..</div><div class="dd" style="left:197.7px;top:695.2px">..</div><div class="dd" style="left:239.3px;top:695.2px">..</div><div class="n" style="left:244.7px;top:695.2px;width:47.0px">8</div><div class="n" style="left:283.3px;top:695.2px;width:48.0px">369</div><div class="dd" style="left:345.7px;top:695.2px">..</div><div class="n" style="left:356.1px;top:695.2px;width:47.3px">20</div><div class="n" style="left:395.0px;top:695.2px;width:42.0px">44</div><div class="n" style="left:428.6px;top:695.2px;width:42.4px">216</div><div class="dd" style="left:486.2px;top:695.2px">..</div><div class="n" style="left:496.4px;top:695.2px;width:47.4px">462</div><div class="n" style="left:535.4px;top:695.2px;width:45.9px">2</div><div class="n" style="left:572.9px;top:695.2px;width:42.6px">656</div><div class="n" style="left:607.1px;top:695.2px;width:58.8px">1<i>,</i>777</div><div class="t" style="left:97.0px;top:716.3px">Totals</div><div class="dd" style="left:155.4px;top:716.3px">..</div><div class="dd" style="left:197.7px;top:716.3px">..</div><div class="dd" style="left:239.3px;top:716.3px">..</div><div class="n" style="left:244.7px;top:716.3px;width:47.0px">53<i>,</i>355</div><div class="n" style="left:283.3px;top:716.3px;width:48.0px">86<i>,</i>532</div><div class="n" style="left:322.9px;top:716.3px;width:41.6px">12<i>,</i>842</div><div class="n" style="left:356.1px;top:716.3px;width:47.3px">41<i>,</i>466</div><div class="n" style="left:395.0px;top:716.3px;width:42.0px">2<i>,</i>632</div><div class="n" style="left:428.6px;top:716.3px;width:42.4px">31<i>,</i>258</div><div class="n" style="left:462.6px;top:716.3px;width:42.2px">469</div><div class="n" style="left:496.4px;top:716.3px;width:47.4px">129<i>,</i>630</div><div class="n" style="left:535.4px;top:716.3px;width:45.9px">54<i>,</i>664</div><div class="n" style="left:572.9px;top:716.3px;width:42.6px">23<i>,</i>539</div><div class="n" style="left:607.1px;top:716.3px;width:58.8px">436<i>,</i>387</div><div class="hl" style="left:254.7px;top:710.7px;width:411.3px"></div><div class="hl" style="left:254.7px;top:731.9px;width:411.3px"></div><div class="t ttl" style="left:33.4px;top:748.3px;width:219.6px;text-align:center"><i>Cheviot Estate.</i></div><div class="t" style="left:33.4px;top:758.9px">Cash lands</div><div class="dd" style="left:114.2px;top:758.9px">..</div><div class="dd" style="left:155.4px;top:758.9px">..</div><div class="dd" style="left:197.7px;top:758.9px">..</div><div class="dd" style="left:239.3px;top:758.9px">..</div><div class="dd" style="left:274.3px;top:758.9px">..</div><div class="dd" style="left:311.8px;top:758.9px">..</div><div class="dd" style="left:345.7px;top:758.9px">..</div><div class="dd" style="left:384.3px;top:758.9px">..</div><div class="dd" style="left:418.4px;top:758.9px">..</div><div class="dd" style="left:452.1px;top:758.9px">..</div><div class="dd" style="left:486.2px;top:758.9px">..</div><div class="n" style="left:496.4px;top:758.9px;width:47.4px">40</div><div class="dd" style="left:562.8px;top:758.9px">..</div><div class="dd" style="left:596.8px;top:758.9px">..</div><div class="n" style="left:607.1px;top:758.9px;width:58.8px">40</div><div class="t" style="left:33.4px;top:769.6px">Lease in perpetuity</div><div class="dd" style="left:155.4px;top:769.6px">..</div><div class="dd" style="left:197.7px;top:769.6px">..</div><div class="dd" style="left:239.3px;top:769.6px">..</div><div class="dd" style="left:274.3px;top:769.6px">..</div><div class="dd" style="left:311.8px;top:769.6px">..</div><div class="dd" style="left:345.7px;top:769.6px">..</div><div class="dd" style="left:384.3px;top:769.6px">..</div><div class="dd" style="left:418.4px;top:769.6px">..</div><div class="dd" style="left:452.1px;top:769.6px">..</div><div class="dd" style="left:486.2px;top:769.6px">..</div><div class="n" style="left:496.4px;top:769.6px;width:47.4px">6<i>,</i>627</div><div class="dd" style="left:562.8px;top:769.6px">..</div><div class="dd" style="left:596.8px;top:769.6px">..</div><div class="n" style="left:607.1px;top:769.6px;width:58.8px">6<i>,</i>627</div><div class="t" style="left:33.4px;top:780.2px">Renewable lease</div><div class="dd" style="left:114.2px;top:780.2px">..</div><div class="dd" style="left:155.4px;top:780.2px">..</div><div class="dd" style="left:197.7px;top:780.2px">..</div><div class="dd" style="left:239.3px;top:780.2px">..</div><div class="dd" style="left:274.3px;top:780.2px">..</div><div class="dd" style="left:311.8px;top:780.2px">..</div><div class="dd" style="left:345.7px;top:780.2px">..</div><div class="dd" style="left:384.3px;top:780.2px">..</div><div class="dd" style="left:418.4px;top:780.2px">..</div><div class="dd" style="left:452.1px;top:780.2px">..</div><div class="dd" style="left:486.2px;top:780.2px">..</div><div class="n" style="left:496.4px;top:780.2px;width:47.4px">431</div><div class="dd" style="left:562.8px;top:780.2px">..</div><div class="dd" style="left:596.8px;top:780.2px">..</div><div class="n" style="left:607.1px;top:780.2px;width:58.8px">431</div><div class="t" style="left:33.4px;top:790.9px">Grazing-farms</div><div class="dd" style="left:114.2px;top:790.9px">..</div><div class="dd" style="left:155.4px;top:790.9px">..</div><div class="dd" style="left:197.7px;top:790.9px">..</div><div class="dd" style="left:239.3px;top:790.9px">..</div><div class="dd" style="left:274.3px;top:790.9px">..</div><div class="dd" style="left:311.8px;top:790.9px">..</div><div class="dd" style="left:345.7px;top:790.9px">..</div><div class="dd" style="left:384.3px;top:790.9px">..</div><div class="dd" style="left:418.4px;top:790.9px">..</div><div class="dd" style="left:452.1px;top:790.9px">..</div><div class="dd" style="left:486.2px;top:790.9px">..</div><div class="n" style="left:496.4px;top:790.9px;width:47.4px">6<i>,</i>034</div><div class="dd" style="left:562.8px;top:790.9px">..</div><div class="dd" style="left:596.8px;top:790.9px">..</div><div class="n" style="left:607.1px;top:790.9px;width:58.8px">6<i>,</i>034</div><div class="t" style="left:33.4px;top:801.5px">Pastoral runs</div><div class="dd" style="left:114.2px;top:801.5px">..</div><div class="dd" style="left:155.4px;top:801.5px">..</div><div class="dd" style="left:197.7px;top:801.5px">..</div><div class="dd" style="left:239.3px;top:801.5px">..</div><div class="dd" style="left:274.3px;top:801.5px">..</div><div class="dd" style="left:311.8px;top:801.5px">..</div><div class="dd" style="left:345.7px;top:801.5px">..</div><div class="dd" style="left:384.3px;top:801.5px">..</div><div class="dd" style="left:418.4px;top:801.5px">..</div><div class="dd" style="left:452.1px;top:801.5px">..</div><div class="dd" style="left:486.2px;top:801.5px">..</div><div class="n" style="left:496.4px;top:801.5px;width:47.4px">190</div><div class="dd" style="left:562.8px;top:801.5px">..</div><div class="dd" style="left:596.8px;top:801.5px">..</div><div class="n" style="left:607.1px;top:801.5px;width:58.8px">190</div><div class="t" style="left:33.4px;top:812.2px">Coal and mineral leases</div><div class="dd" style="left:155.4px;top:812.2px">..</div><div class="dd" style="left:197.7px;top:812.2px">..</div><div class="dd" style="left:239.3px;top:812.2px">..</div><div class="dd" style="left:274.3px;top:812.2px">..</div><div class="dd" style="left:311.8px;top:812.2px">..</div><div class="dd" style="left:345.7px;top:812.2px">..</div><div class="dd" style="left:384.3px;top:812.2px">..</div><div class="dd" style="left:418.4px;top:812.2px">..</div><div class="dd" style="left:452.1px;top:812.2px">..</div><div class="dd" style="left:486.2px;top:812.2px">..</div><div class="dd" style="left:525.6px;top:812.2px">..</div><div class="dd" style="left:562.8px;top:812.2px">..</div><div class="dd" style="left:596.8px;top:812.2px">..</div><div class="dd" style="left:641.6px;top:812.2px">..</div><div class="t" style="left:33.4px;top:822.8px">Timber licenses and sale of timber</div><div class="dd" style="left:197.7px;top:822.8px">..</div><div class="dd" style="left:239.3px;top:822.8px">..</div><div class="dd" style="left:274.3px;top:822.8px">..</div><div class="dd" style="left:311.8px;top:822.8px">..</div><div class="dd" style="left:345.7px;top:822.8px">..</div><div class="dd" style="left:384.3px;top:822.8px">..</div><div class="dd" style="left:418.4px;top:822.8px">..</div><div class="dd" style="left:452.1px;top:822.8px">..</div><div class="dd" style="left:486.2px;top:822.8px">..</div><div class="dd" style="left:525.6px;top:822.8px">..</div><div class="dd" style="left:562.8px;top:822.8px">..</div><div class="dd" style="left:596.8px;top:822.8px">..</div><div class="dd" style="left:641.6px;top:822.8px">..</div><div class="t" style="left:33.4px;top:833.5px">Flax-cutting</div><div class="dd" style="left:114.2px;top:833.5px">..</div><div class="dd" style="left:155.4px;top:833.5px">..</div><div class="dd" style="left:197.7px;top:833.5px">..</div><div class="dd" style="left:239.3px;top:833.5px">..</div><div class="dd" style="left:274.3px;top:833.5px">..</div><div class="dd" style="left:311.8px;top:833.5px">..</div><div class="dd" style="left:345.7px;top:833.5px">..</div><div class="dd" style="left:384.3px;top:833.5px">..</div><div class="dd" style="left:418.4px;top:833.5px">..</div><div class="dd" style="left:452.1px;top:833.5px">..</div><div class="dd" style="left:486.2px;top:833.5px">..</div><div class="dd" style="left:525.6px;top:833.5px">..</div><div class="dd" style="left:562.8px;top:833.5px">..</div><div class="dd" style="left:596.8px;top:833.5px">..</div><div class="dd" style="left:641.6px;top:833.5px">..</div><div class="t" style="left:33.4px;top:844.1px">Other miscellaneous leases and licenses</div><div class="dd" style="left:239.3px;top:844.1px">..</div><div class="dd" style="left:274.3px;top:844.1px">..</div><div class="dd" style="left:311.8px;top:844.1px">..</div><div class="dd" style="left:345.7px;top:844.1px">..</div><div class="dd" style="left:384.3px;top:844.1px">..</div><div class="dd" style="left:418.4px;top:844.1px">..</div><div class="dd" style="left:452.1px;top:844.1px">..</div><div class="dd" style="left:486.2px;top:844.1px">..</div><div class="n" style="left:496.4px;top:844.1px;width:47.4px">330</div><div class="dd" style="left:562.8px;top:844.1px">..</div><div class="dd" style="left:596.8px;top:844.1px">..</div><div class="n" style="left:607.1px;top:844.1px;width:58.8px">330</div><div class="t j" style="left:33.4px;top:854.8px;width:214.6px">Payments of capital value under section 191</div><div class="dd" style="left:274.3px;top:854.8px">..</div><div class="dd" style="left:311.8px;top:854.8px">..</div><div class="dd" style="left:345.7px;top:854.8px">..</div><div class="dd" style="left:384.3px;top:854.8px">..</div><div class="dd" style="left:418.4px;top:854.8px">..</div><div class="dd" style="left:452.1px;top:854.8px">..</div><div class="dd" style="left:486.2px;top:854.8px">..</div><div class="dd" style="left:525.6px;top:854.8px">..</div><div class="dd" style="left:562.8px;top:854.8px">..</div><div class="dd" style="left:596.8px;top:854.8px">..</div><div class="dd" style="left:641.6px;top:854.8px">..</div><div class="t" style="left:43.8px;top:865.4px">of the Land Act, 1908</div><div class="t" style="left:33.4px;top:876.1px">Miscellaneous</div><div class="dd" style="left:114.2px;top:876.1px">..</div><div class="dd" style="left:155.4px;top:876.1px">..</div><div class="dd" style="left:197.7px;top:876.1px">..</div><div class="dd" style="left:239.3px;top:876.1px">..</div><div class="dd" style="left:274.3px;top:876.1px">..</div><div class="dd" style="left:311.8px;top:876.1px">..</div><div class="dd" style="left:345.7px;top:876.1px">..</div><div class="dd" style="left:384.3px;top:876.1px">..</div><div class="dd" style="left:418.4px;top:876.1px">..</div><div class="dd" style="left:452.1px;top:876.1px">..</div><div class="dd" style="left:486.2px;top:876.1px">..</div><div class="dd" style="left:525.6px;top:876.1px">..</div><div class="dd" style="left:562.8px;top:876.1px">..</div><div class="dd" style="left:596.8px;top:876.1px">..</div><div class="dd" style="left:641.6px;top:876.1px">..</div><div class="t" style="left:97.0px;top:897.4px">Totals</div><div class="dd" style="left:155.4px;top:897.4px">..</div><div class="dd" style="left:197.7px;top:897.4px">..</div><div class="dd" style="left:239.3px;top:897.4px">..</div><div class="dd" style="left:274.3px;top:897.4px">..</div><div class="dd" style="left:311.8px;top:897.4px">..</div><div class="dd" style="left:345.7px;top:897.4px">..</div><div class="dd" style="left:384.3px;top:897.4px">..</div><div class="dd" style="left:418.4px;top:897.4px">..</div><div class="dd" style="left:452.1px;top:897.4px">..</div><div class="dd" style="left:486.2px;top:897.4px">..</div><div class="n" style="left:496.4px;top:897.4px;width:47.4px">13<i>,</i>652</div><div class="dd" style="left:562.8px;top:897.4px">..</div><div class="dd" style="left:596.8px;top:897.4px">..</div><div class="n" style="left:607.1px;top:897.4px;width:58.8px">13<i>,</i>652</div><div class="hl" style="left:254.7px;top:891.8px;width:411.3px"></div><div class="hl" style="left:254.7px;top:913.0px;width:411.3px"></div><div class="t ttl" style="left:33.4px;top:928.6px;width:219.6px;text-align:center"><i>National-endowment Lands.</i></div><div class="t" style="left:33.4px;top:939.3px">Cash lands</div><div class="dd" style="left:114.2px;top:939.3px">..</div><div class="dd" style="left:155.4px;top:939.3px">..</div><div class="dd" style="left:197.7px;top:939.3px">..</div><div class="dd" style="left:239.3px;top:939.3px">..</div><div class="dd" style="left:274.3px;top:939.3px">..</div><div class="dd" style="left:311.8px;top:939.3px">..</div><div class="dd" style="left:345.7px;top:939.3px">..</div><div class="dd" style="left:384.3px;top:939.3px">..</div><div class="dd" style="left:418.4px;top:939.3px">..</div><div class="dd" style="left:452.1px;top:939.3px">..</div><div class="dd" style="left:486.2px;top:939.3px">..</div><div class="dd" style="left:525.6px;top:939.3px">..</div><div class="dd" style="left:562.8px;top:939.3px">..</div><div class="dd" style="left:596.8px;top:939.3px">..</div><div class="dd" style="left:641.6px;top:939.3px">..</div><div class="t" style="left:33.4px;top:950.1px">Renewable leases</div><div class="dd" style="left:155.4px;top:950.1px">..</div><div class="dd" style="left:197.7px;top:950.1px">..</div><div class="dd" style="left:239.3px;top:950.1px">..</div><div class="n" style="left:244.7px;top:950.1px;width:47.0px">5<i>,</i>220</div><div class="n" style="left:283.3px;top:950.1px;width:48.0px">3<i>,</i>759</div><div class="n" style="left:322.9px;top:950.1px;width:41.6px">2<i>,</i>651</div><div class="n" style="left:356.1px;top:950.1px;width:47.3px">1<i>,</i>642</div><div class="n" style="left:395.0px;top:950.1px;width:42.0px">2<i>,</i>010</div><div class="n" style="left:428.6px;top:950.1px;width:42.4px">588</div><div class="n" style="left:462.6px;top:950.1px;width:42.2px">956</div><div class="n" style="left:496.4px;top:950.1px;width:47.4px">440</div><div class="n" style="left:535.4px;top:950.1px;width:45.9px">965</div><div class="n" style="left:572.9px;top:950.1px;width:42.6px">823</div><div class="n" style="left:607.1px;top:950.1px;width:58.8px">19<i>,</i>054</div><div class="t j" style="left:33.4px;top:960.8px;width:214.6px">Pastoral licenses in mining districts under</div><div class="n" style="left:244.7px;top:960.8px;width:47.0px">128</div><div class="dd" style="left:311.8px;top:960.8px">..</div><div class="dd" style="left:345.7px;top:960.8px">..</div><div class="dd" style="left:384.3px;top:960.8px">..</div><div class="n" style="left:395.0px;top:960.8px;width:42.0px">430</div><div class="dd" style="left:452.1px;top:960.8px">..</div><div class="n" style="left:462.6px;top:960.8px;width:42.2px">403</div><div class="dd" style="left:525.6px;top:960.8px">..</div><div class="dd" style="left:562.8px;top:960.8px">..</div><div class="dd" style="left:596.8px;top:960.8px">..</div><div class="n" style="left:607.1px;top:960.8px;width:58.8px">961</div><div class="t" style="left:43.8px;top:971.6px">special regulations</div><div class="t" style="left:33.4px;top:982.3px">Small grazing-runs</div><div class="dd" style="left:155.4px;top:982.3px">..</div><div class="dd" style="left:197.7px;top:982.3px">..</div><div class="dd" style="left:239.3px;top:982.3px">..</div><div class="n" style="left:244.7px;top:982.3px;width:47.0px">382</div><div class="n" style="left:283.3px;top:982.3px;width:48.0px">3<i>,</i>566</div><div class="n" style="left:322.9px;top:982.3px;width:41.6px">59</div><div class="n" style="left:356.1px;top:982.3px;width:47.3px">414</div><div class="n" style="left:395.0px;top:982.3px;width:42.0px">120</div><div class="n" style="left:428.6px;top:982.3px;width:42.4px">3<i>,</i>266</div><div class="dd" style="left:486.2px;top:982.3px">..</div><div class="n" style="left:496.4px;top:982.3px;width:47.4px">8<i>,</i>348</div><div class="n" style="left:535.4px;top:982.3px;width:45.9px">19<i>,</i>781</div><div class="n" style="left:572.9px;top:982.3px;width:42.6px">932</div><div class="n" style="left:607.1px;top:982.3px;width:58.8px">36<i>,</i>868</div><div class="t" style="left:97.0px;top:1003.8px">Carried forward</div><div class="dd" style="left:197.7px;top:1003.8px">..</div><div class="dd" style="left:239.3px;top:1003.8px">..</div><div class="n" style="left:244.7px;top:1003.8px;width:47.0px">5<i>,</i>730</div><div class="n" style="left:283.3px;top:1003.8px;width:48.0px">7<i>,</i>325</div><div class="n" style="left:322.9px;top:1003.8px;width:41.6px">2<i>,</i>710</div><div class="n" style="left:356.1px;top:1003.8px;width:47.3px">2<i>,</i>056</div><div class="n" style="left:395.0px;top:1003.8px;width:42.0px">2<i>,</i>560</div><div class="n" style="left:428.6px;top:1003.8px;width:42.4px">3<i>,</i>854</div><div class="n" style="left:462.6px;top:1003.8px;width:42.2px">1<i>,</i>359</div><div class="n" style="left:496.4px;top:1003.8px;width:47.4px">8<i>,</i>788</div><div class="n" style="left:535.4px;top:1003.8px;width:45.9px">20<i>,</i>746</div><div class="n" style="left:572.9px;top:1003.8px;width:42.6px">1<i>,</i>755</div><div class="n" style="left:607.1px;top:1003.8px;width:58.8px">56<i>,</i>883</div><div class="hl" style="left:254.7px;top:997.8px;width:411.3px"></div>
</body></html>
